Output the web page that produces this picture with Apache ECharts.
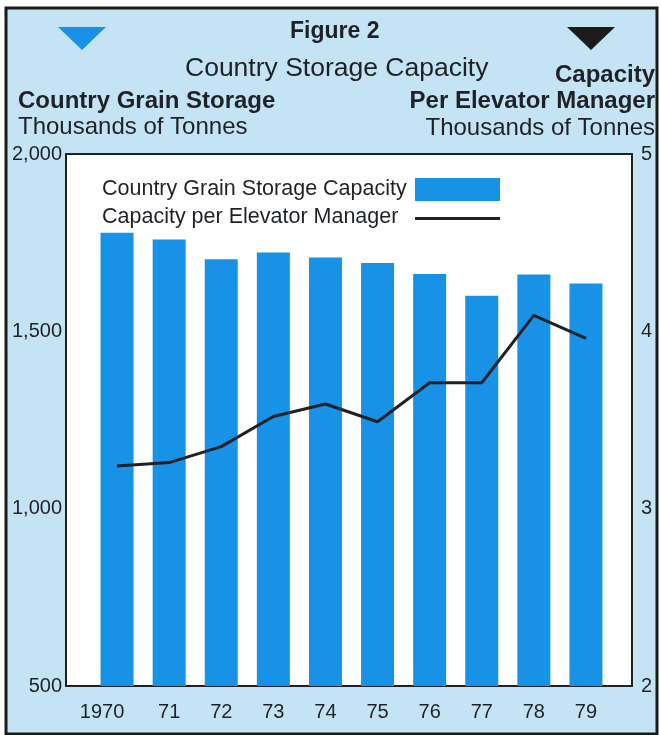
<!DOCTYPE html>
<html>
<head>
<meta charset="utf-8">
<script src="https://cdn.jsdelivr.net/npm/echarts@6/dist/echarts.min.js"></script>
<style>
  html, body { margin: 0; padding: 0; background: #fff; }
  #chart { width: 661px; height: 735px; }
</style>
</head>
<body>
<div id="chart"></div>
<script>
// data
const years = ['1970', '71', '72', '73', '74', '75', '76', '77', '78', '79']
const storageCapacity = [1778, 1759, 1703, 1722, 1708, 1693, 1662, 1600, 1660, 1635]   // thousand tonnes
const perManager = [3.24, 3.26, 3.35, 3.52, 3.59, 3.49, 3.71, 3.71, 4.09, 3.96]         // thousand tonnes
const leftTicks = [500, 2000, 500]   // min, max, interval
const rightTicks = [2, 5, 1]

const FONT = '"Liberation Sans", Arial, Helvetica, sans-serif'
const INK = '#1e2226'
const BAR_BLUE = '#1792e6'

let myChart = echarts.init(document.getElementById('chart'))

// one title per line of header text
function head(text, pos, size, bold) {
  return Object.assign({
    text: text,
    textStyle: { fontFamily: FONT, fontSize: size, fontWeight: bold ? 'bold' : 'normal', color: INK }
  }, pos)
}

const option = {
  backgroundColor: '#fff',
  textStyle: { fontFamily: FONT, color: INK },
  graphic: [
    {
      type: 'rect', z: -10,
      shape: { x: 6, y: 8, width: 651, height: 726 },
      style: { fill: '#c4e4f6', stroke: '#1a1a1a', lineWidth: 3 }
    },
    // little marker triangles above the two axis titles
    { type: 'polygon', shape: { points: [[58, 27], [106, 27], [82, 50]] }, style: { fill: BAR_BLUE } },
    { type: 'polygon', shape: { points: [[567, 27], [615, 27], [591, 50]] }, style: { fill: '#1b1b1b' } }
  ],
  title: [
    head('Figure 2', { left: 285, top: 15 }, 23, true),
    head('Country Storage Capacity', { left: 180, top: 50 }, 26.5, false),
    head('Country Grain Storage', { left: 13, top: 84 }, 24, true),
    head('Thousands of Tonnes', { left: 13, top: 110 }, 24, false),
    head('Capacity', { right: 1, top: 58 }, 24, true),
    head('Per Elevator Manager', { right: 1, top: 84 }, 24, true),
    head('Thousands of Tonnes', { right: 1, top: 111 }, 24, false)
  ],
  legend: [
    {
      left: 97, top: 173,
      align: 'right',
      itemWidth: 85, itemHeight: 23,
      formatter: n => '{a|' + n + '}',
      textStyle: { fontFamily: FONT, fontSize: 21.5, color: INK, rich: { a: { fontFamily: FONT, fontSize: 21.5, color: INK, width: 308, align: 'left' } } },
      data: [{ name: 'Country Grain Storage Capacity', icon: 'rect' }]
    },
    {
      left: 97, top: 201,
      align: 'right',
      itemWidth: 85, itemHeight: 23,
      formatter: n => '{a|' + n + '}',
      textStyle: { fontFamily: FONT, fontSize: 21.5, color: INK, rich: { a: { fontFamily: FONT, fontSize: 21.5, color: INK, width: 308, align: 'left' } } },
      data: [{
        name: 'Capacity per Elevator Manager',
        icon: 'path://M0,11h85v3H0z M0,0h0.01v0.01H0z M0,23h0.01v0.01H0z',
        itemStyle: { color: INK, borderWidth: 0 }
      }]
    }
  ],
  grid: [
    // frame with the two value axes
    { left: 66, top: 154, width: 566, height: 532, show: true, backgroundColor: '#fff', borderColor: INK, borderWidth: 2 },
    // bars and line sit a bit inset from the frame
    { left: 91, top: 154, width: 521, height: 532 }
  ],
  xAxis: [
    { gridIndex: 0, type: 'category', data: years, show: false },
    {
      gridIndex: 1, type: 'category', data: years,
      axisLine: { show: false }, axisTick: { show: false },
      axisLabel: {
        interval: 0, margin: 16, fontFamily: FONT, fontSize: 20, color: INK,
        formatter: (v, i) => i === 0 ? '{a|' + v + '}' : v,
        rich: { a: { fontFamily: FONT, fontSize: 20, color: INK, padding: [0, 30, 0, 0] } }
      }
    }
  ],
  yAxis: [
    {
      gridIndex: 0, type: 'value', position: 'left',
      min: leftTicks[0], max: leftTicks[1], interval: leftTicks[2],
      axisLine: { show: false }, axisTick: { show: false }, splitLine: { show: false },
      axisLabel: {
        margin: 4, fontFamily: FONT, fontSize: 20, color: INK,
        formatter: v => v.toLocaleString('en-US')
      }
    },
    {
      gridIndex: 0, type: 'value', position: 'right',
      min: rightTicks[0], max: rightTicks[1], interval: rightTicks[2],
      axisLine: { show: false }, axisTick: { show: false }, splitLine: { show: false },
      axisLabel: { margin: 9, fontFamily: FONT, fontSize: 20, color: INK }
    },
    { gridIndex: 1, type: 'value', min: leftTicks[0], max: leftTicks[1], show: false },
    { gridIndex: 1, type: 'value', min: rightTicks[0], max: rightTicks[1], show: false }
  ],
  series: [
    {
      name: 'Country Grain Storage Capacity',
      type: 'bar',
      xAxisIndex: 1, yAxisIndex: 2,
      barWidth: 33,
      itemStyle: { color: BAR_BLUE },
      data: storageCapacity
    },
    {
      name: 'Capacity per Elevator Manager',
      type: 'line',
      xAxisIndex: 1, yAxisIndex: 3,
      symbol: 'none',
      lineStyle: { color: INK, width: 3 },
      itemStyle: { color: INK },
      data: perManager
    }
  ]
}

myChart.setOption(option)
</script>
</body>
</html>
